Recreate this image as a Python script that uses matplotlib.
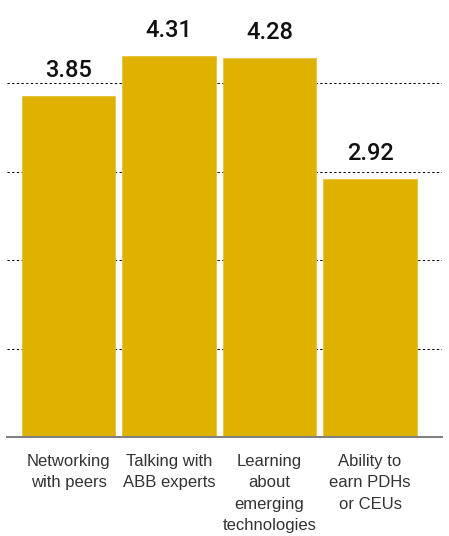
import numpy as np
import matplotlib
matplotlib.use("Agg")
import matplotlib.pyplot as plt

# survey scores per activity
categories = ["Networking\nwith peers", "Talking with\nABB experts",
              "Learning\nabout\nemerging\ntechnologies", "Ability to\nearn PDHs\nor CEUs"]
scores = [3.85, 4.31, 4.28, 2.92]
grid_levels = [1, 2, 3, 4]

bar_color = "#E0B200"

plt.rcParams['font.family'] = ['Liberation Sans', 'DejaVu Sans']

fig = plt.figure(figsize=(4.49, 5.36), dpi=100)
ax = fig.add_axes([7/449, 99/536, 435/449, 437/536])

x = np.arange(len(scores))
bars = ax.bar(x, scores, width=0.93, color=bar_color, edgecolor="#E6C33A",
              linewidth=0.6, zorder=2)

for lvl in grid_levels:
    ax.axhline(lvl, color="black", linewidth=0.7, linestyle=(0, (2.4, 2.4)), zorder=1)

for xi, v in zip(x, scores):
    ax.annotate(f"{v:.2f}", (xi, v), xytext=(0, 10), textcoords="offset points",
                ha="center", va="bottom", fontsize=17, family=["Roboto", "Liberation Sans"],
                fontweight="medium", color="#111111")

ax.set_xlim(-0.612, 3.716)
ax.set_ylim(0, 437/88.5)

for s in ["top", "right", "left"]:
    ax.spines[s].set_visible(False)
ax.spines["bottom"].set_color("#808080")
ax.spines["bottom"].set_linewidth(1.5)
ax.spines["bottom"].set_zorder(3)

ax.set_yticks([])
ax.set_xticks(x)
ax.set_xticklabels(categories, fontsize=12, color="#333333", linespacing=1.55,
                   va="top", ha="center")
ax.tick_params(axis="x", length=0, pad=12)

fig.savefig("out.png", dpi=100)
